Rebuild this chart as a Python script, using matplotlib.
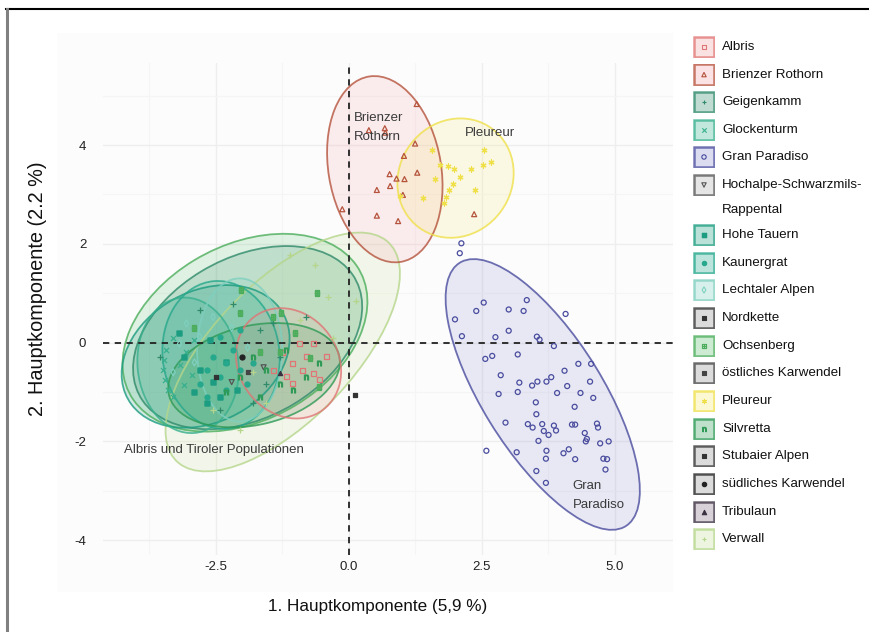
import matplotlib
matplotlib.use("Agg")
import matplotlib.pyplot as plt
from matplotlib.patches import Ellipse, Rectangle
from matplotlib.lines import Line2D
import numpy as np

plt.rcParams['font.family'] = ['Liberation Sans', 'DejaVu Sans']

# ---------------- data ----------------
groups = ["Albris", "Brienzer Rothorn", "Geigenkamm", "Glockenturm", "Gran Paradiso",
          "Hochalpe-Schwarzmils-\nRappental", "Hohe Tauern", "Kaunergrat", "Lechtaler Alpen",
          "Nordkette", "Ochsenberg", "östliches Karwendel", "Pleureur", "Silvretta",
          "Stubaier Alpen", "südliches Karwendel", "Tribulaun", "Verwall"]

edge_colors = ["#e07575", "#b5533c", "#2f8a6a", "#38b08e", "#4a4c9e", "#555555",
               "#1c9c80", "#25a88c", "#7fd0c0", "#333333", "#4cae5c", "#444444",
               "#efe04a", "#2e9a55", "#333333", "#222222", "#3a3040", "#b5d68a"]
fill_colors = ["#f2a0a0", "#f5a0a8", "#2f8a6a", "#38b08e", "#8c8ed0", "#aaaaaa",
               "#1c9c80", "#25a88c", "#7fd0c0", "#888888", "#5cbf6c", "#888888",
               "#f5ea70", "#2e9a55", "#888888", "#888888", "#806880", "#c5e09a"]
markers = ["s", "^", "+", "x", "o", "v", "$\\boxtimes$", "o", "d", "s", "$\\boxplus$", "s",
           (6, 2, 0), "$\\mathrm{n}$", "s", "o", "^", "+"]
filled = [False, False, True, True, False, False, True, True, False, True, True, True,
          True, True, True, True, True, True]

pts_x = {
    "Albris": [-1.05, -0.86, -0.80, -1.17, -0.67, -0.92, -1.42, -1.05, -0.67, -0.42, -1.25, -0.55],
    "Brienzer Rothorn": [1.28, 0.38, 0.68, 0.69, 1.25, 1.04, 0.77, 0.90, 1.05, 1.29, 0.53, 0.78,
                         -0.12, 0.53, 0.93, 2.36, 1.02],
    "Geigenkamm": [-2.17, -1.67, -1.42, -2.42, -1.80, -1.55, -2.80, -0.80, -1.30, -3.55],
    "Glockenturm": [-3.43, -3.47, -3.49, -3.45, -3.40, -3.30, -3.18, -3.05, -2.95, -3.10, -3.30, -2.90],
    "Gran Paradiso": [2.12, 2.09, 2.54, 2.40, 3.01, 3.35, 3.29, 2.00, 2.13, 2.76, 3.01, 3.54, 4.08,
                      3.86, 2.57, 2.70, 3.18, 2.86, 2.82, 3.18, 3.21, 3.45, 3.55, 3.72, 3.81, 4.06,
                      4.32, 4.56, 4.54, 4.11, 3.92, 4.36, 4.60, 3.52, 4.25, 3.53, 2.95, 3.37, 3.46,
                      3.64, 3.67, 3.86, 3.90, 3.76, 3.57, 4.20, 4.26, 4.44, 4.48, 4.67, 4.69, 4.73,
                      4.89, 4.46, 4.04, 4.14, 4.26, 3.72, 3.71, 3.16, 2.59, 4.79, 4.86, 4.83, 3.53,
                      3.71, 3.59],
    "Hochalpe-Schwarzmils-\nRappental": [-1.60, -2.20],
    "Hohe Tauern": [-3.10, -2.80, -2.55, -2.42, -2.67, -2.30, -2.90, -2.10, -3.20, -2.60],
    "Kaunergrat": [-2.67, -2.55, -2.42, -2.30, -2.17, -2.05, -2.30, -2.80, -1.92, -2.42, -2.05,
                   -1.80, -2.67],
    "Lechtaler Alpen": [-3.05, -2.80, -3.18, -2.55, -3.30, -2.20, -1.90, -2.90],
    "Nordkette": [0.11],
    "Ochsenberg": [-0.60, -2.02, -2.05, -1.27, -1.42, -0.73, -0.55, -1.30, -1.67, -2.90, -1.00],
    "östliches Karwendel": [-1.90],
    "Pleureur": [1.57, 1.71, 1.87, 1.99, 1.62, 2.09, 2.31, 2.54, 2.68, 2.52, 2.37, 1.96, 1.89,
                 1.84, 1.80, 1.40, 0.96],
    "Silvretta": [-1.80, -1.55, -1.30, -1.05, -0.80, -2.05, -1.67, -0.55, -1.17, -2.30],
    "Stubaier Alpen": [-2.50],
    "südliches Karwendel": [-2.00],
    "Tribulaun": [-1.30],
    "Verwall": [-1.11, -0.63, 0.14, -0.39, -0.92, -1.55, -2.55, -2.05, -0.30, -1.80],
}
pts_y = {
    "Albris": [-0.42, -0.56, -0.29, -0.69, -0.02, -0.02, -0.56, -0.83, -0.62, -0.29, -0.20, -0.75],
    "Brienzer Rothorn": [4.83, 4.30, 4.34, 4.25, 4.03, 3.78, 3.41, 3.32, 3.31, 3.44, 3.09, 3.17,
                         2.70, 2.57, 2.46, 2.60, 2.99],
    "Geigenkamm": [0.79, 0.25, 0.39, -1.37, -1.23, -0.83, 0.66, 0.52, -0.29, -0.29],
    "Glockenturm": [-0.15, -0.35, -0.56, -0.75, -0.95, -1.10, -0.45, -0.20, -0.65, -0.85, 0.10, 0.05],
    "Gran Paradiso": [2.01, 1.81, 0.81, 0.64, 0.67, 0.86, 0.64, 0.47, 0.13, 0.11, 0.24, 0.12, 0.58,
                      -0.07, -0.33, -0.27, -0.24, -0.66, -1.04, -1.00, -0.81, -0.87, -0.79, -0.79,
                      -0.70, -0.57, -0.43, -0.43, -0.79, -0.88, -1.02, -1.02, -1.12, -1.21, -1.30,
                      -1.45, -1.62, -1.65, -1.72, -1.65, -1.79, -1.68, -1.78, -1.87, -1.99, -1.66,
                      -1.66, -1.83, -1.95, -1.64, -1.72, -2.04, -2.00, -2.00, -2.24, -2.16, -2.36,
                      -2.19, -2.35, -2.22, -2.19, -2.35, -2.36, -2.57, -2.60, -2.84, 0.06],
    "Hochalpe-Schwarzmils-\nRappental": [-0.50, -0.80],
    "Hohe Tauern": [-0.30, -0.56, -0.80, -1.10, -1.23, -0.40, -1.00, -0.95, 0.20, 0.05],
    "Kaunergrat": [-0.56, -0.29, -0.69, -0.42, -0.15, -0.56, -0.96, -0.83, -0.83, 0.12, 0.25,
                   -0.42, -1.10],
    "Lechtaler Alpen": [0.39, 0.12, -0.02, 0.52, -0.60, 0.30, -0.10, -0.40],
    "Nordkette": [-1.06],
    "Ochsenberg": [1.00, 1.06, 0.59, 0.59, 0.52, -0.32, -0.89, -0.19, -0.19, 0.30, 0.20],
    "östliches Karwendel": [-0.60],
    "Pleureur": [3.90, 3.59, 3.57, 3.51, 3.32, 3.36, 3.51, 3.90, 3.66, 3.59, 3.09, 3.22, 3.09,
                 2.95, 2.83, 2.92, 2.97],
    "Silvretta": [-0.29, -0.56, -0.83, -0.96, -0.69, -0.69, -1.10, -0.42, -0.15, -1.00],
    "Stubaier Alpen": [-0.70],
    "südliches Karwendel": [-0.30],
    "Tribulaun": [-0.62],
    "Verwall": [1.77, 1.57, 0.85, 0.93, 0.45, -1.23, -1.37, -1.76, 0.10, -0.60],
}

# confidence ellipses: centre x, centre y, width, height, angle (deg)
ell_groups = ["Ochsenberg", "Geigenkamm", "Verwall", "Hohe Tauern", "Glockenturm", "Kaunergrat",
              "Lechtaler Alpen", "Silvretta", "Albris", "Brienzer Rothorn", "Pleureur", "Gran Paradiso"]
ell_cx = [-1.95, -1.90, -1.24, -2.69, -3.02, -2.40, -2.05, -1.78, -1.13, 0.68, 2.01, 3.65]
ell_cy = [0.20, 0.10, -0.19, -0.28, -0.46, -0.25, -0.15, -0.66, -0.42, 3.51, 3.33, -1.05]
ell_w = [5.0, 4.7, 5.96, 3.4, 1.9, 2.2, 1.6, 3.3, 1.9, 2.12, 2.15, 6.18]
ell_h = [3.5, 3.2, 2.7, 2.6, 2.75, 3.0, 2.9, 2.0, 2.3, 3.80, 2.45, 2.28]
ell_ang = [33, 33, 49, 35, 5, 5, 0, 15, 25, 8.6, -20, -60.2]

x_ticks = [-2.5, 0.0, 2.5, 5.0]
x_ticklabels = ["-2.5", "0.0", "2.5", "5.0"]
y_ticks = [-4, -2, 0, 2, 4]
y_ticklabels = ["-4", "-2", "0", "2", "4"]

annotations = ["Brienzer\nRothorn", "Pleureur", "Albris und Tiroler Populationen", "Gran\nParadiso"]
ann_x = [0.09, 2.19, -4.23, 4.21]
ann_y = [4.36, 4.24, -2.18, -3.10]

# ---------------- figure ----------------
W, H = 870, 632
fig = plt.figure(figsize=(W / 100, H / 100), dpi=100)
fig.patch.set_facecolor("white")

# faint plot background and outer frame lines
fig.add_artist(Rectangle((57 / W, 1 - 592 / H), (673 - 57) / W, (592 - 33) / H,
                         transform=fig.transFigure, facecolor="#fcfcfc", edgecolor="none", zorder=0))
fig.add_artist(Line2D([6 / W, 1], [1 - 9 / H, 1 - 9 / H], transform=fig.transFigure,
                      color="black", lw=1.5))
fig.add_artist(Line2D([7 / W, 7 / W], [0, 1 - 9 / H], transform=fig.transFigure,
                      color="#808080", lw=2.2))

ax = fig.add_axes([103 / W, 1 - 555 / H, (673 - 103) / W, (555 - 63) / H])
ax.set_facecolor("none")
ax.set_xlim(-4.62, 6.10)
ax.set_ylim(-4.30, 5.66)
for s in ax.spines.values():
    s.set_visible(False)

ax.set_xticks(x_ticks)
ax.set_xticklabels(x_ticklabels)
ax.set_yticks(y_ticks)
ax.set_yticklabels(y_ticklabels)
ax.set_xticks([-3.75, -1.25, 1.25, 3.75], minor=True)
ax.set_yticks([-3, -1, 1, 3, 5], minor=True)
ax.tick_params(which="both", length=0)
ax.tick_params(axis="x", pad=4, labelsize=9.5, labelcolor="#222222")
ax.tick_params(axis="y", pad=12, labelsize=9.5, labelcolor="#222222")
ax.grid(which="major", color="#eeeeee", lw=1.0)
ax.grid(which="minor", color="#f5f5f5", lw=0.8)
ax.set_axisbelow(True)

idx = {g: i for i, g in enumerate(groups)}

for k, g in enumerate(ell_groups):
    i = idx[g]
    e = Ellipse((ell_cx[k], ell_cy[k]), ell_w[k], ell_h[k], angle=ell_ang[k],
                facecolor=fill_colors[i], alpha=0.18, edgecolor="none", zorder=2)
    ax.add_patch(e)
    e2 = Ellipse((ell_cx[k], ell_cy[k]), ell_w[k], ell_h[k], angle=ell_ang[k],
                 facecolor="none", edgecolor=edge_colors[i], lw=1.3, alpha=0.8, zorder=3)
    ax.add_patch(e2)

ax.axvline(0, color="#222222", lw=1.3, ls=(0, (3.5, 3)), zorder=4)
ax.axhline(0, color="#222222", lw=1.3, ls=(0, (3.5, 3)), zorder=4)

for g in groups:
    i = idx[g]
    m = markers[i]
    c = edge_colors[i]
    size = 9 if (filled[i] and m in ("s", "^")) else 13
    if filled[i]:
        ax.scatter(pts_x[g], pts_y[g], marker=m, s=size, color=c, linewidths=0.9, zorder=5)
    else:
        ax.scatter(pts_x[g], pts_y[g], marker=m, s=13, facecolors="none", edgecolors=c,
                   linewidths=0.9, zorder=5)

for t, x, y in zip(annotations, ann_x, ann_y):
    ax.text(x, y, t, fontsize=9.5, color="#3a3a3a", ha="left", va="center",
            linespacing=1.75, zorder=6)

# axis titles
fig.text(378 / W, 1 - 607 / H, "1. Hauptkomponente (5,9 %)", fontsize=12.3, ha="center",
         va="center", color="#111111")
fig.text(38 / W, 1 - 289 / H, "2. Hauptkomponente (2.2 %)", fontsize=14.3, ha="center",
         va="center", rotation=90, color="#111111")

# legend (manual)
leg_y = [47, 74.6, 102, 130, 157, 185, 235, 263, 290, 318, 346, 373, 401, 429, 456, 484, 512, 539]
key = 22
for g, yy in zip(groups, leg_y):
    i = idx[g]
    kax = fig.add_axes([693 / W, 1 - (yy + key / 2) / H, key / W, key / H])
    kax.set_xlim(0, 1)
    kax.set_ylim(0, 1)
    kax.axis("off")
    kax.add_patch(Rectangle((0.04, 0.04), 0.92, 0.92, facecolor=fill_colors[i], alpha=0.3,
                            edgecolor="none"))
    kax.add_patch(Rectangle((0.04, 0.04), 0.92, 0.92, facecolor="none",
                            edgecolor=edge_colors[i], lw=1.8, alpha=0.75))
    if filled[i]:
        kax.scatter([0.5], [0.5], marker=markers[i], s=10, color=edge_colors[i], linewidths=0.8)
    else:
        kax.scatter([0.5], [0.5], marker=markers[i], s=10, facecolors="none",
                    edgecolors=edge_colors[i], linewidths=0.8)
    if "\n" in g:
        first, second = g.split("\n")
        fig.text(722 / W, 1 - yy / H, first, fontsize=9.6, ha="left", va="center", color="#111111")
        fig.text(722 / W, 1 - (yy + 25) / H, second, fontsize=9.6, ha="left", va="center",
                 color="#111111")
    else:
        fig.text(722 / W, 1 - yy / H, g, fontsize=9.6, ha="left", va="center", color="#111111")

fig.savefig("out.png", dpi=100)
